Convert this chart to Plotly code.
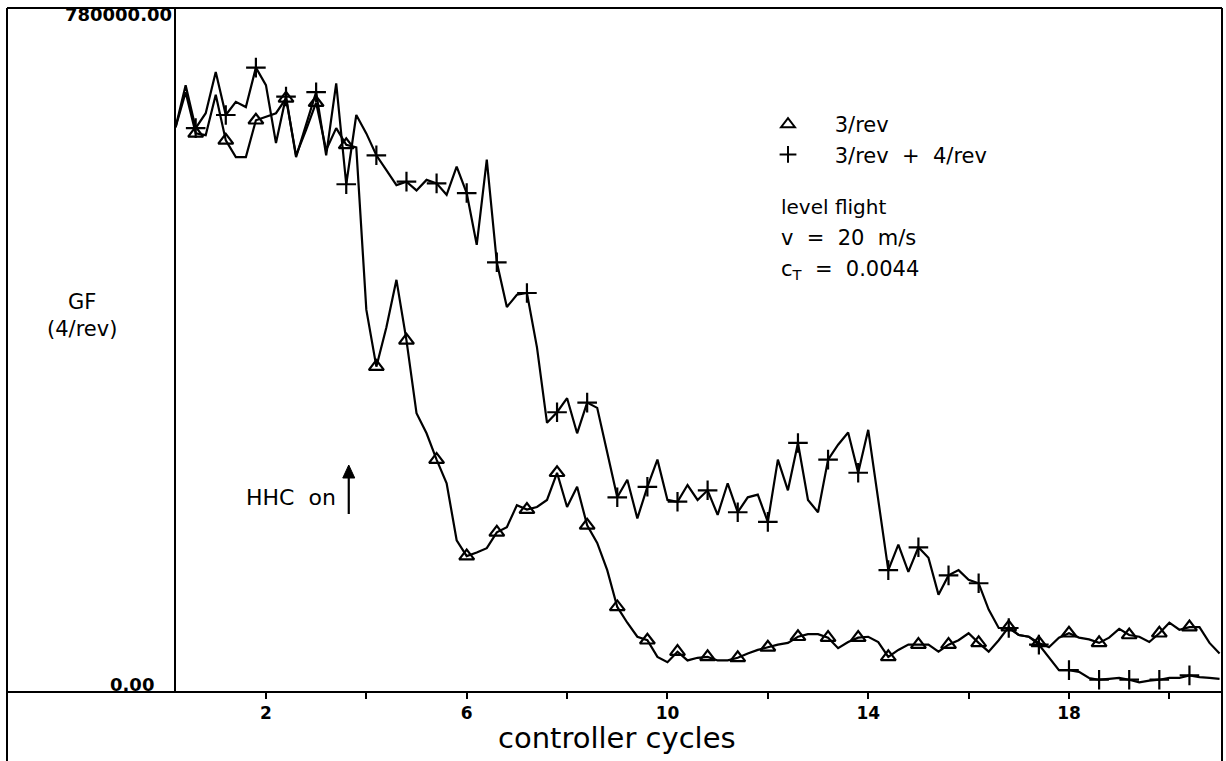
import numpy as np
import plotly.graph_objects as go

# ---------------- data ----------------
# controller cycles: samples every 0.2 cycle
cycles = [round(0.2 * k, 1) for k in range(1, 106)]

# GF (4/rev) with 3/rev HHC
gf_3rev = [
    644000, 684000, 637000, 635000, 681000, 629000, 610000, 610000, 652000, 656000,
    660000, 677000, 612000, 641000, 672000, 618000, 643000, 624000, 621000, 436000,
    371000, 416000, 470000, 401000, 318000, 295000, 265000, 238000, 173000, 155000,
    159000, 164000, 182000, 188000, 213000, 208000, 211000, 219000, 250000, 211000,
    234000, 190000, 170000, 139000, 97000, 79000, 63000, 59000, 40000, 34000,
    46000, 36000, 39000, 40000, 36000, 36000, 39000, 44000, 48000, 51000,
    54000, 56000, 63000, 66000, 66000, 62000, 50000, 57000, 62000, 63000,
    57000, 40000, 48000, 54000, 54000, 54000, 46000, 54000, 59000, 67000,
    56000, 46000, 59000, 74000, 65000, 63000, 56000, 51000, 62000, 67000,
    62000, 60000, 56000, 62000, 72000, 65000, 63000, 57000, 67000, 79000,
    71000, 74000, 74000, 56000, 44000,
]

# GF (4/rev) with 3/rev + 4/rev HHC
gf_34rev = [
    644000, 692000, 643000, 660000, 707000, 658000, 673000, 667000, 712000, 692000,
    626000, 679000, 610000, 647000, 684000, 612000, 694000, 579000, 658000, 637000,
    612000, 595000, 578000, 582000, 572000, 584000, 580000, 567000, 599000, 569000,
    510000, 607000, 490000, 439000, 453000, 455000, 393000, 307000, 319000, 335000,
    295000, 330000, 324000, 273000, 222000, 242000, 198000, 234000, 265000, 219000,
    217000, 236000, 219000, 230000, 202000, 238000, 205000, 222000, 225000, 194000,
    265000, 230000, 284000, 219000, 205000, 265000, 282000, 296000, 250000, 299000,
    219000, 139000, 168000, 137000, 165000, 153000, 111000, 133000, 139000, 128000,
    124000, 94000, 73000, 73000, 65000, 63000, 54000, 39000, 25000, 25000,
    23000, 16000, 14000, 15000, 16000, 14000, 11000, 13000, 14000, 16000,
    16000, 19000, 17000, 16000, 15000,
]

x_tick_vals = [2, 6, 10, 14, 18]
x_tick_text = ["2", "6", "10", "14", "18"]
x_minor_vals = [4, 8, 12, 16, 20]
y_min, y_max = 0, 780000
y_labels = ["0.00", "780000.00"]
hhc_on_cycle = 3.65

series_names = ["3/rev", "3/rev  +  4/rev"]

# ---------------- figure ----------------
W, H = 1226, 761
ML, MR, MT, MB = 175, 4, 8, 69
PW, PH = W - ML - MR, H - MT - MB
FONT = "DejaVu Sans"
PX_PER_CYCLE = 50.19


def px_x(px):
    return (px - ML) / PW


def px_y(py):
    return (H - MB - py) / PH


fig = go.Figure()

for vals in (gf_3rev, gf_34rev):
    fig.add_trace(go.Scatter(
        x=cycles, y=vals, mode="lines",
        line=dict(color="black", width=2.2),
        showlegend=False, hoverinfo="skip",
    ))

mk = slice(2, 102, 3)
NB = "\u00a0"
fig.add_trace(go.Scatter(
    x=cycles[mk], y=gf_3rev[mk], mode="markers",
    name=NB * 4 + series_names[0],
    marker=dict(symbol="triangle-up-open", size=13, color="black",
                line=dict(width=2.2, color="black")),
))
fig.add_trace(go.Scatter(
    x=cycles[mk], y=gf_34rev[mk], mode="markers",
    name=NB * 4 + series_names[1],
    marker=dict(symbol="cross-thin-open", size=14, color="black",
                line=dict(width=2.2, color="black")),
))

xr0 = 0.2 - (175.6 - ML) / PX_PER_CYCLE
xr1 = xr0 + PW / PX_PER_CYCLE

fig.update_layout(
    width=W, height=H,
    margin=dict(l=ML, r=MR, t=MT, b=MB, pad=0),
    paper_bgcolor="white", plot_bgcolor="white",
    font=dict(family=FONT, color="black"),
    showlegend=True,
    legend=dict(
        x=px_x(768), y=px_y(104), xanchor="left", yanchor="top",
        font=dict(size=21, family=FONT, color="black"),
        bgcolor="rgba(0,0,0,0)", borderwidth=0, tracegroupgap=0,
        itemsizing="constant",
    ),
    xaxis=dict(
        range=[xr0, xr1], showgrid=False, zeroline=False, showline=False,
        tickmode="array", tickvals=x_tick_vals, ticktext=x_tick_text,
        ticks="outside", ticklen=6, tickwidth=1.5, tickcolor="black",
        tickfont=dict(size=17, family=FONT, color="black", weight="bold"),
        minor=dict(tickmode="array", tickvals=x_minor_vals, ticks="outside",
                   ticklen=6, tickwidth=1.5, tickcolor="black", showgrid=False),
    ),
    yaxis=dict(
        range=[y_min, y_max], showgrid=False, zeroline=False, showline=False,
        showticklabels=False, ticks="",
    ),
)

# frame lines (outer box, axis lines)
frame = [
    (7, 8, 1222, 8), (7, 692, 1222, 692), (7, 8, 7, 761),
    (1222, 8, 1222, 761), (175, 8, 175, 692),
]
for x0, y0, x1, y1 in frame:
    fig.add_shape(type="line", xref="paper", yref="paper",
                  x0=px_x(x0), y0=px_y(y0), x1=px_x(x1), y1=px_y(y1),
                  line=dict(color="black", width=2), layer="above")

# "HHC on" arrow (shaft + filled head)
y_at = lambda py: (H - MB - py) / PH * (y_max - y_min)
hw = 6 / PX_PER_CYCLE
fig.add_shape(type="line", xref="x", yref="y",
              x0=hhc_on_cycle, y0=y_at(514), x1=hhc_on_cycle, y1=y_at(474),
              line=dict(color="black", width=2.2))
fig.add_shape(type="path", xref="x", yref="y",
              path=(f"M {hhc_on_cycle - hw},{y_at(478)} L {hhc_on_cycle + hw},{y_at(478)} "
                    f"L {hhc_on_cycle},{y_at(465)} Z"),
              fillcolor="black", line=dict(color="black", width=1))

ann = []
# y-axis labels
ann.append(dict(text=y_labels[1], x=px_x(174), y=px_y(14), xanchor="right", yanchor="middle",
                font=dict(size=18, weight="bold")))
ann.append(dict(text=y_labels[0], x=px_x(156), y=px_y(684), xanchor="right", yanchor="middle",
                font=dict(size=18, weight="bold")))
# y-axis title
ann.append(dict(text="GF<br>(4/rev)", x=px_x(82), y=px_y(315), xanchor="center", yanchor="middle",
                font=dict(size=21), align="center"))
# x-axis title
ann.append(dict(text="controller cycles", x=px_x(617), y=px_y(738), xanchor="center",
                yanchor="middle", font=dict(size=29)))
# flight condition text
ann.append(dict(text="level flight", x=px_x(779), y=px_y(207), xanchor="left", yanchor="middle",
                font=dict(size=20)))
ann.append(dict(text="v  =  20  m/s", x=px_x(779), y=px_y(238), xanchor="left", yanchor="middle",
                font=dict(size=21)))
ann.append(dict(text="c<sub>T</sub>  =  0.0044", x=px_x(779), y=px_y(270), xanchor="left",
                yanchor="middle", font=dict(size=21)))
# HHC on
ann.append(dict(text="HHC  on", x=px_x(338), y=px_y(498), xanchor="right", yanchor="middle",
                font=dict(size=22)))
for a in ann:
    a.update(xref="paper", yref="paper", showarrow=False)
    a["font"].update(family=FONT, color="black")
    fig.add_annotation(**a)

fig.write_html("out.html")
